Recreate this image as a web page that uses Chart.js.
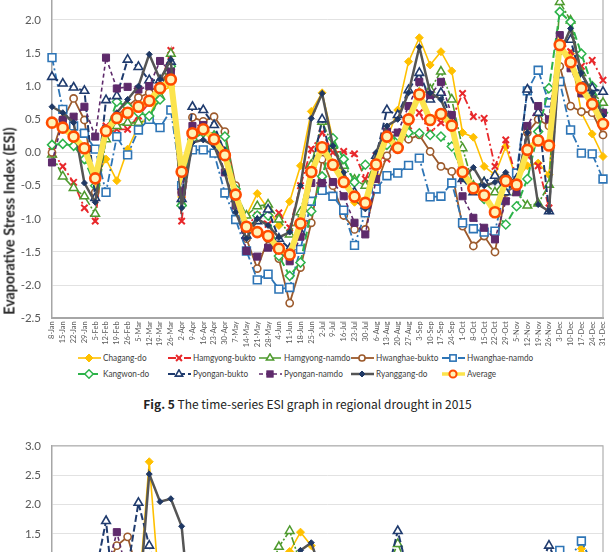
<!DOCTYPE html>
<html><head><meta charset="utf-8">
<script src="https://cdn.jsdelivr.net/npm/chart.js@4"></script>
<style>
html,body{margin:0;padding:0;background:#fff;}
body{width:615px;height:552px;overflow:hidden;position:relative;}
#c1{position:absolute;left:0;top:-40px;}
#c2{position:absolute;left:0;top:428px;}
#ytitle{position:absolute;left:9px;top:221px;transform:translate(-50%,-50%) rotate(-90deg);white-space:nowrap;font:700 14.3px Lato,sans-serif;color:#262626;}
.lg{position:absolute;height:12px;white-space:nowrap;}
.lg svg{position:absolute;left:0;top:1px;}
.lg span{position:absolute;left:25px;top:-1px;font:10px Lato,sans-serif;color:#404040;line-height:12px;transform:scaleX(0.82);transform-origin:0 50%;}
#cap{position:absolute;left:0;width:615px;top:395px;text-align:center;font:12px "Noto Sans CJK KR",sans-serif;color:#222;}
#cap b{font-weight:700;}
</style></head>
<body>
<canvas id="c1" width="615" height="390"></canvas>
<div id="ytitle">Evaporative Stress Index (ESI)</div>
<div id="legend"></div>
<div id="cap"><b>Fig. 5</b> The time-series ESI graph in regional drought in 2015</div>
<canvas id="c2" width="615" height="420"></canvas>
<script>
const dates = ['8-Jan','15-Jan','22-Jan','29-Jan','5-Feb','12-Feb','19-Feb','26-Feb','5-Mar','12-Mar','19-Mar','26-Mar','2-Apr','9-Apr','16-Apr','23-Apr','30-Apr','7-May','14-May','21-May','28-May','4-Jun','11-Jun','18-Jun','25-Jun','2-Jul','9-Jul','16-Jul','23-Jul','30-Jul','6-Aug','13-Aug','20-Aug','27-Aug','3-Sep','10-Sep','17-Sep','24-Sep','1-Oct','8-Oct','15-Oct','22-Oct','29-Oct','5-Nov','12-Nov','19-Nov','26-Nov','3-Dec','10-Dec','17-Dec','24-Dec','31-Dec'];

const seriesNames = ['Chagang-do','Hamgyong-bukto','Hamgyong-namdo','Hwanghae-bukto','Hwanghae-namdo','Kangwon-do','Pyongan-bukto','Pyongan-namdo','Ryanggang-do','Average'];

// Fig. 5 (2015)
const chagang = [0.45,0.40,0.20,0.05,-0.40,-0.10,-0.425,0.05,0.40,0.55,0.90,1.00,-0.67,0.30,0.35,0.25,0.00,-0.70,-0.95,-0.62,-0.85,-1.10,-0.74,-0.20,0.62,0.90,0.20,-0.40,-0.75,-0.78,-0.35,0.20,0.64,1.37,1.73,1.32,1.52,1.23,0.30,0.23,-0.21,-0.335,0.09,-0.41,-0.20,-0.16,-0.335,1.55,1.49,0.60,0.28,-0.06];
const hamgyongBukto = [0.02,-0.21,-0.45,-0.835,-1.035,0.40,0.35,0.35,0.55,0.75,1.00,1.54,-1.035,0.30,0.40,0.25,0.05,-0.60,-1.10,-0.95,-1.085,-0.91,-1.135,-0.50,0.05,0.30,0.00,0.015,-0.02,-0.40,-0.05,-0.10,0.30,0.40,0.60,0.30,0.45,0.50,0.89,0.54,0.515,-0.21,0.19,-0.40,-0.05,-0.20,-0.835,1.70,1.52,1.30,1.39,1.09];
const hamgyongNamdo = [-0.03,-0.36,-0.535,-0.66,-0.925,0.20,0.40,0.45,0.45,0.50,0.85,1.49,-0.76,0.30,0.35,0.25,0.00,-0.60,-0.95,-0.81,-0.785,-1.01,-1.235,-0.90,-0.185,0.465,0.10,-0.20,-0.41,-0.50,-0.10,0.30,0.20,0.32,0.90,0.95,1.22,0.80,0.065,-0.50,-0.45,-0.60,-0.40,-0.60,-0.80,-0.77,-0.485,2.27,1.99,1.20,0.90,0.75];
const hwanghaeBukto = [0.00,0.50,0.815,0.49,-0.60,0.30,0.55,0.70,0.83,0.90,1.05,1.25,-0.60,0.53,0.47,0.54,0.315,-0.50,-1.30,-1.75,-1.30,-1.60,-2.27,-1.735,-1.06,-0.10,-0.50,-0.95,-1.16,-1.16,-0.50,-0.05,0.20,0.20,0.265,0.015,-0.21,-0.285,-1.11,-1.41,-1.26,-1.50,-0.60,-0.50,0.30,0.50,0.40,1.30,0.70,0.615,0.60,0.265];
const hwanghaeNamdo = [1.43,0.65,0.40,0.29,0.05,-0.60,0.24,-0.035,0.34,0.50,0.375,0.64,-0.50,0.04,0.04,-0.01,-0.61,-1.01,-1.485,-1.92,-1.835,-2.06,-2.035,-1.46,-0.735,-0.57,-0.66,-0.87,-1.40,-0.91,-0.55,-0.35,-0.31,-0.195,-0.085,-0.67,-0.66,-0.46,-1.06,-1.15,-1.20,-1.185,-0.50,-0.31,0.93,1.24,0.75,1.07,0.34,-0.01,-0.02,-0.40];
const kangwon = [0.115,0.13,0.10,-0.10,-0.50,0.30,0.765,0.69,0.60,0.55,0.80,1.30,-0.80,0.20,0.30,0.25,0.24,-0.55,-1.20,-0.95,-0.95,-1.56,-1.86,-1.66,-0.885,-0.36,0.215,-0.10,-0.45,-0.185,-0.195,0.115,0.25,0.30,0.29,0.265,0.24,0.09,-0.30,-0.55,-0.70,-0.90,-1.085,-0.81,-0.40,0.315,0.97,2.12,1.97,1.49,1.00,0.60];
const pyonganBukto = [1.14,1.04,0.98,0.93,-0.685,0.79,0.85,1.40,1.29,1.09,1.09,1.37,-0.70,0.69,0.64,0.415,0.00,-0.70,-1.25,-1.035,-0.86,-1.30,-1.45,-1.20,-0.30,0.50,-0.20,-0.40,-0.60,-0.80,-0.05,0.64,0.565,0.94,1.20,0.80,0.90,0.50,-0.40,-0.60,-0.45,-0.35,-0.60,-0.40,0.95,0.60,-0.885,1.60,1.70,1.10,0.97,0.915];
const pyonganNamdo = [-0.15,0.49,0.54,0.69,0.24,1.43,0.965,0.99,0.95,1.00,1.38,1.22,-0.60,0.40,0.415,0.20,-0.30,-0.80,-1.485,-1.57,-1.435,-1.46,-1.64,-1.27,-0.46,-0.46,-0.445,-0.66,-1.06,-1.235,-0.40,0.315,0.30,0.70,1.065,0.865,1.065,0.565,-0.66,-0.985,-1.135,-1.31,-0.735,-0.60,0.40,0.70,0.50,1.77,1.27,0.89,0.80,0.60];
const ryanggang = [0.69,0.60,0.45,-0.46,-0.75,0.30,0.60,0.80,1.00,1.48,1.10,1.40,-0.835,0.15,0.19,0.10,-0.31,-0.90,-1.30,-1.00,-1.10,-1.28,-1.20,-0.50,0.515,0.89,0.10,-0.30,-0.70,-0.85,0.00,0.40,0.50,0.90,1.59,0.90,0.80,0.40,-0.40,-0.225,-0.50,-0.45,-0.30,-0.50,0.30,-0.785,-0.885,1.50,1.87,1.20,0.90,0.55];
const average = [0.45,0.375,0.24,0.065,-0.39,0.325,0.52,0.60,0.69,0.78,0.97,1.10,-0.29,0.29,0.35,0.20,-0.04,-0.635,-1.12,-1.20,-1.26,-1.45,-1.54,-1.07,-0.295,0.08,-0.185,-0.445,-0.665,-0.76,-0.18,0.24,0.07,0.50,0.875,0.49,0.58,0.405,-0.295,-0.54,-0.645,-0.90,-0.43,-0.485,0.04,0.18,0.105,1.62,1.36,0.97,0.73,0.43];

// next figure (only its top part is visible; values below ~1.2 are not shown)
const N = null;
const chagang2 = [N,N,N,N,N,N,N,N,0.40,2.73,0.40,N,N,N,N,N,N,N,N,N,N,N,1.20,1.53,1.30,0.90,N,N,N,N,N,N,N,N,N,N,N,N,N,N,N,N,N,N,N,N,N,N,1.00,1.25,1.00,N];
const hamgyongNamdo2 = [N,N,N,N,N,N,N,N,N,N,N,N,N,N,N,N,N,N,N,N,0.80,1.28,1.55,1.00,N,N,N,N,N,N,N,0.90,1.33,0.90,N,N,N,N,N,N,N,N,N,N,N,N,N,N,N,N,N,N];
const hwanghaeBukto2 = [N,N,N,N,N,0.90,1.30,1.45,0.80,N,N,N,N,N,N,N,N,N,N,N,N,N,N,N,N,N,N,N,N,N,N,N,N,N,N,N,N,N,N,N,N,N,N,N,N,N,N,N,N,N,N,N];
const hwanghaeNamdo2 = [N,N,N,N,N,N,N,N,N,N,N,N,N,N,N,N,N,N,N,N,N,N,N,N,N,N,N,N,N,N,N,N,N,N,N,N,N,N,N,N,N,N,N,N,N,N,0.90,1.22,1.10,1.38,1.00,N];
const pyonganBukto2 = [N,N,N,N,0.80,1.72,-0.10,0.90,2.03,1.30,0.50,N,N,N,N,N,N,N,N,N,N,N,N,N,N,N,N,N,N,N,N,0.80,1.55,0.80,N,N,N,N,N,N,N,N,N,N,N,0.90,1.30,0.90,N,N,N,N];
const pyonganNamdo2 = [N,N,N,N,N,0.80,1.53,0.80,N,N,N,N,N,N,N,N,N,N,N,N,N,N,N,N,N,N,N,N,N,N,N,N,N,N,N,N,N,N,N,N,N,N,N,N,N,N,N,N,N,N,N,N];
const ryanggang2 = [N,N,N,N,N,N,N,N,0.20,2.52,2.05,2.10,1.63,-0.30,N,N,N,N,N,N,N,N,0.90,1.22,1.35,0.80,N,N,N,N,N,N,N,N,N,N,N,N,N,N,N,N,N,N,N,N,N,N,N,N,N,N];

const values1 = [chagang,hamgyongBukto,hamgyongNamdo,hwanghaeBukto,hwanghaeNamdo,kangwon,pyonganBukto,pyonganNamdo,ryanggang,average];
const values2 = [chagang2,null,hamgyongNamdo2,hwanghaeBukto2,hwanghaeNamdo2,null,pyonganBukto2,pyonganNamdo2,ryanggang2,null];

// styles (kept separate from the data)
const styles = [
 {c:'#FFC000', w:1.6, dash:[], ps:'rectRot', r:4, pf:'#FFC000', pc:'#FFC000', pw:1},
 {c:'#E8282B', w:1.8, dash:[8,3,2,3], ps:'crossRot', r:4.5, pf:'#E8282B', pc:'#E8282B', pw:2},
 {c:'#4E9A2E', w:1.6, dash:[8,2,2,2], ps:'triangle', r:5, pf:'#ffffff', pc:'#4E9A2E', pw:1.5},
 {c:'#9C5A2C', w:1.8, dash:[], ps:'circle', r:3.6, pf:'#ffffff', pc:'#9C5A2C', pw:1.6},
 {c:'#2E75B6', w:1.8, dash:[8,3,2,3], ps:'rect', r:5.5, pf:'#ffffff', pc:'#2E75B6', pw:1.6},
 {c:'#2DB34A', w:2, dash:[8,4], ps:'rectRot', r:4.5, pf:'#ffffff', pc:'#2DB34A', pw:1.5},
 {c:'#1F3B6E', w:2, dash:[7,3], ps:'triangle', r:5, pf:'#ffffff', pc:'#1F3B6E', pw:1.6},
 {c:'#5E2A6B', w:1.6, dash:[4,3], ps:'rect', r:5, pf:'#5E2A6B', pc:'#5E2A6B', pw:1},
 {c:'#555555', w:2.5, dash:[], ps:'rectRot', r:3, pf:'#1F3864', pc:'#1F3864', pw:1},
 {c:'#FCE44D', w:6, dash:[], ps:'circle', r:5, pf:'#FFF3B8', pc:'#FF4B00', pw:2.6}
];

function makeDatasets(vals){
  const ds=[];
  vals.forEach((v,i)=>{
    if(!v) return;
    const s=styles[i];
    ds.push({label:seriesNames[i], data:v, borderColor:s.c, borderWidth:s.w, borderDash:s.dash,
      pointStyle:s.ps, pointRadius:s.r, pointHoverRadius:s.r, pointBackgroundColor:s.pf,
      pointBorderColor:s.pc, pointBorderWidth:s.pw, tension:0, fill:false, clip:false,
      order:10-i, spanGaps:false});
  });
  return ds;
}

const frame = {id:'frame', beforeDatasetsDraw(chart){
  const {ctx, chartArea:a}=chart; ctx.save(); ctx.strokeStyle='#B0B0B0'; ctx.lineWidth=1.2;
  ctx.beginPath(); ctx.moveTo(a.left,a.top); ctx.lineTo(a.right,a.top); ctx.lineTo(a.right,a.bottom); ctx.stroke(); ctx.restore();
}};

function makeChart(id, vals, ymin, ymax, padTop, xH){
  return new Chart(document.getElementById(id), {
    type:'line',
    data:{labels:dates, datasets:makeDatasets(vals)},
    plugins:[frame],
    options:{
      responsive:false, animation:false, devicePixelRatio:1,
      layout:{padding:{top:padTop,right:8,left:0,bottom:0}},
      plugins:{legend:{display:false}, tooltip:{enabled:false}},
      scales:{
        x:{offset:false, grid:{display:false, drawTicks:false}, border:{color:'#A6A6A6', width:2},
           ticks:{autoSkip:false, minRotation:90, maxRotation:90, padding:3, color:'#595959', font:{family:'Lato', size:7.5}},
           afterFit(s){s.height=xH;}},
        y:{min:ymin, max:ymax, grid:{color:'#E2E2E2', lineWidth:1, drawTicks:false}, border:{color:'#A6A6A6', width:1.5},
           ticks:{stepSize:0.5, padding:11, color:'#595959', font:{family:'Lato', size:11.5}, callback:v=>v.toFixed(1)},
           afterFit(s){s.width=52;}}
      }
    }
  });
}

makeChart('c1', values1, -2.5, 2.5, 26.7, 31.7);
makeChart('c2', values2, -3.0, 3.0, 10, 50);

// HTML legend
const cols=[78,168,259,351,442], rows=[358,374];
const lg=document.getElementById('legend');
function markerSvg(s){
  const x=11,y=5,r=Math.min(s.r,4.2);
  const f=s.pf, c=s.pc, w=Math.min(s.pw,2);
  switch(s.ps){
    case 'rectRot': return `<polygon points="${x},${y-r} ${x+r},${y} ${x},${y+r} ${x-r},${y}" fill="${f}" stroke="${c}" stroke-width="${w}"/>`;
    case 'crossRot': return `<path d="M${x-r*0.7},${y-r*0.7}L${x+r*0.7},${y+r*0.7}M${x+r*0.7},${y-r*0.7}L${x-r*0.7},${y+r*0.7}" stroke="${c}" stroke-width="${w}"/>`;
    case 'triangle': return `<polygon points="${x},${y-r} ${x+r*0.87},${y+r*0.5} ${x-r*0.87},${y+r*0.5}" fill="${f}" stroke="${c}" stroke-width="${w}"/>`;
    case 'circle': return `<circle cx="${x}" cy="${y}" r="${r*0.85}" fill="${f}" stroke="${c}" stroke-width="${w}"/>`;
    case 'rect': { const h=r*0.75; return `<rect x="${x-h}" y="${y-h}" width="${2*h}" height="${2*h}" fill="${f}" stroke="${c}" stroke-width="${w}"/>`; }
  }
  return '';
}
seriesNames.forEach((name,i)=>{
  const s=styles[i];
  const d=document.createElement('div'); d.className='lg';
  d.style.left=cols[i%5]+'px'; d.style.top=(rows[Math.floor(i/5)]-6)+'px';
  const lw=Math.min(s.w,3.5);
  d.innerHTML=`<svg width="24" height="10" viewBox="0 0 24 10"><line x1="0" y1="5" x2="23" y2="5" stroke="${s.c}" stroke-width="${lw}" stroke-dasharray="${s.dash.length?s.dash.join(' '):'none'}"/>${markerSvg(s)}</svg><span>${name}</span>`;
  lg.appendChild(d);
});
</script>
</body></html>
